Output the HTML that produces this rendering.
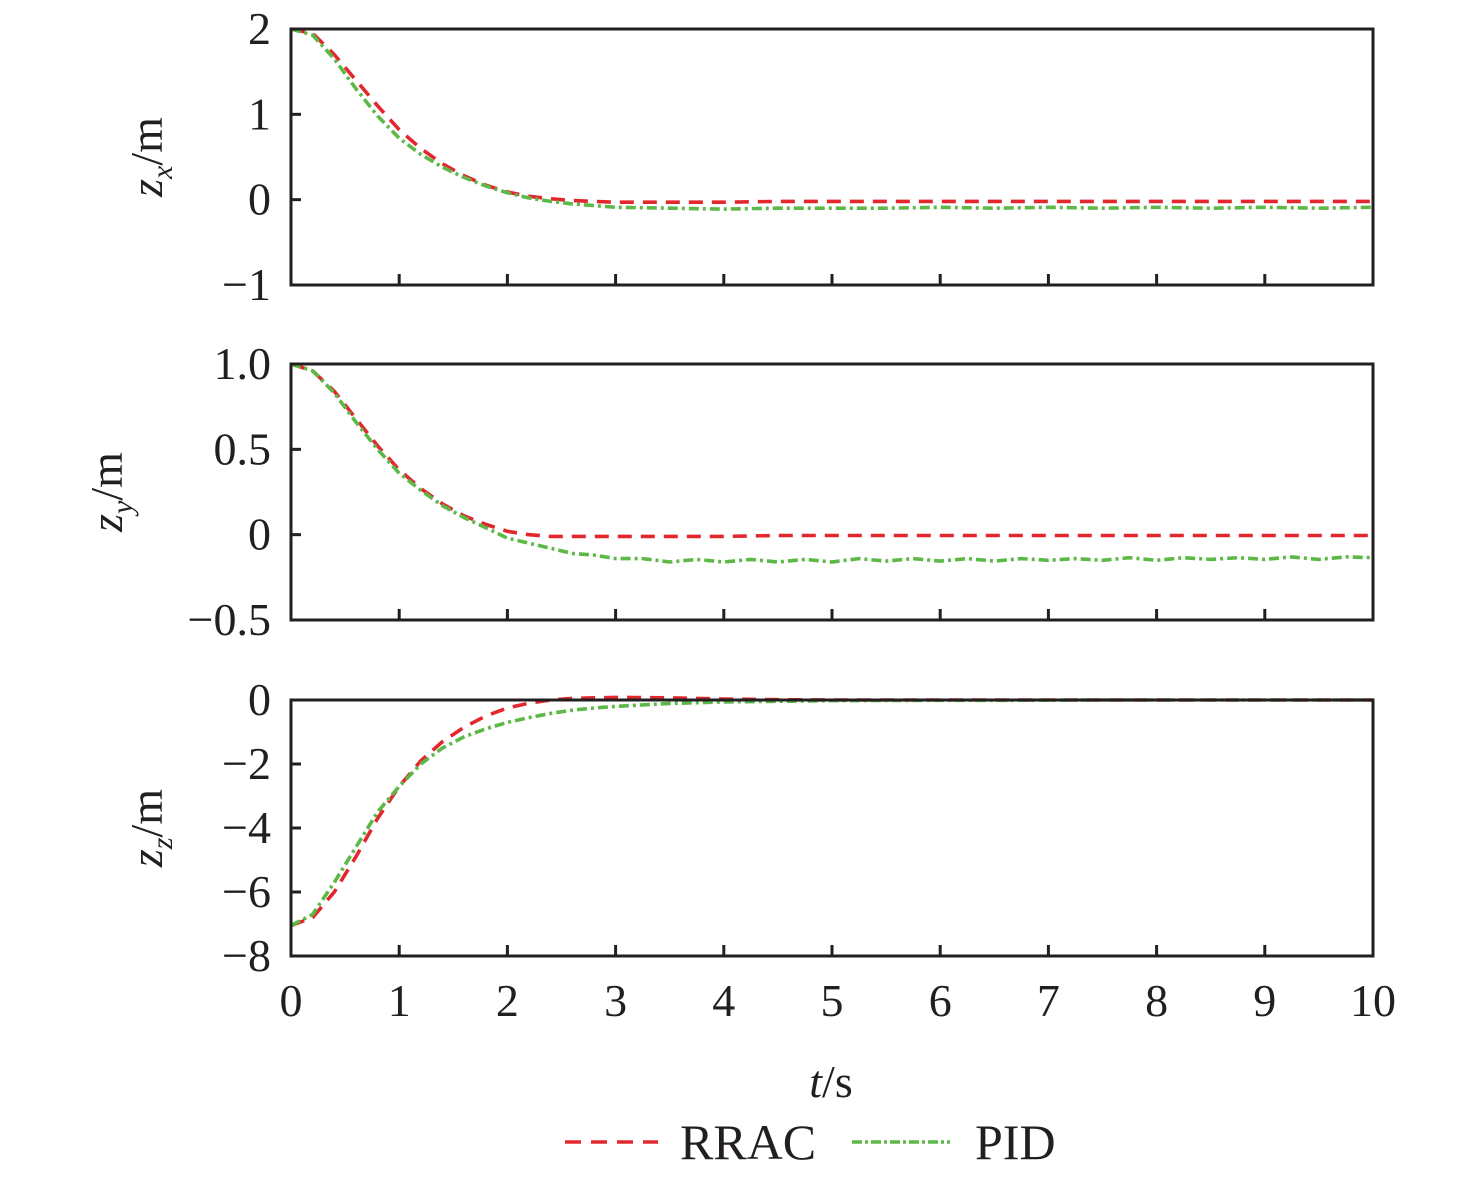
<!DOCTYPE html>
<html><head><meta charset="utf-8"><style>
html,body{margin:0;padding:0;background:#fff;}
svg{display:block;}
svg text{font-family:"Liberation Serif","Times New Roman",serif;}
</style></head><body>
<svg id="chart" width="1476" height="1177" viewBox="0 0 1476 1177"></svg>
<script>
const tX = [0,0.2,0.4,0.6,0.8,1.0,1.2,1.4,1.6,1.8,2.0,2.2,2.4,2.6,2.8,3.0,3.5,4.0,4.5,5,5.5,6,6.5,7,7.5,8,8.5,9,9.5,10];
const zxRRAC = [2,1.95,1.7,1.4,1.1,0.82,0.6,0.42,0.28,0.17,0.09,0.04,0.01,-0.01,-0.02,-0.03,-0.03,-0.03,-0.02,-0.02,-0.02,-0.02,-0.02,-0.02,-0.02,-0.02,-0.02,-0.02,-0.02,-0.02];
const zxPID = [2,1.93,1.65,1.3,0.98,0.72,0.53,0.38,0.26,0.16,0.08,0.02,-0.02,-0.05,-0.07,-0.09,-0.1,-0.11,-0.1,-0.1,-0.1,-0.09,-0.1,-0.09,-0.1,-0.09,-0.1,-0.09,-0.1,-0.09];
const zyRRAC = [1,0.96,0.84,0.68,0.52,0.38,0.27,0.18,0.11,0.06,0.02,0.0,-0.01,-0.01,-0.01,-0.01,-0.01,-0.01,-0.005,-0.005,-0.005,-0.005,-0.005,-0.005,-0.005,-0.005,-0.005,-0.005,-0.005,-0.005];
const tY = [0,0.2,0.4,0.6,0.8,1.0,1.2,1.4,1.6,1.8,2.0,2.2,2.4,2.6,2.8,3.0,3.25,3.5,3.75,4,4.25,4.5,4.75,5,5.25,5.5,5.75,6,6.25,6.5,6.75,7,7.25,7.5,7.75,8,8.25,8.5,8.75,9,9.25,9.5,9.75,10];
const zyPID = [1,0.96,0.83,0.66,0.5,0.36,0.26,0.17,0.1,0.04,-0.02,-0.05,-0.08,-0.11,-0.12,-0.14,-0.14,-0.16,-0.145,-0.16,-0.145,-0.16,-0.145,-0.16,-0.14,-0.155,-0.14,-0.155,-0.14,-0.155,-0.14,-0.15,-0.14,-0.15,-0.135,-0.15,-0.135,-0.145,-0.135,-0.145,-0.13,-0.145,-0.13,-0.135];
const zzRRAC = [-7.05,-6.8,-6.0,-4.9,-3.7,-2.7,-1.9,-1.3,-0.85,-0.5,-0.25,-0.1,0,0.05,0.07,0.08,0.07,0.03,0.01,0,0,0,0,0,0,0,0,0,0,0];
const zzPID = [-7.05,-6.7,-5.7,-4.6,-3.5,-2.7,-2.0,-1.5,-1.15,-0.9,-0.7,-0.55,-0.42,-0.32,-0.25,-0.2,-0.11,-0.06,-0.04,-0.02,-0.015,-0.01,-0.01,-0.005,0,0,0,0,0,0];
const xTicks = [0,1,2,3,4,5,6,7,8,9,10];
const p1Ticks = [2,1,0,-1], p1Labels = ["2","1","0","\u22121"];
const p2Ticks = [1,0.5,0,-0.5], p2Labels = ["1.0","0.5","0","\u22120.5"];
const p3Ticks = [0,-2,-4,-6,-8], p3Labels = ["0","\u22122","\u22124","\u22126","\u22128"];

const svg = document.getElementById('chart');
const NS = 'http://www.w3.org/2000/svg';
function mk(tag, attrs, parent){const e=document.createElementNS(NS,tag);for(const k in attrs)e.setAttribute(k,attrs[k]);(parent||svg).appendChild(e);return e;}
const X0=291,X1=1373;
const xs = t => X0 + (X1-X0)*t/10;
const RED='#e2282e', GREEN='#5cb947';
const FF='Liberation Serif, serif';

function panel(name, top, bot, ymax, ymin, ticks, labels, series, ylabel, sub, lx, ly){
  const g = mk('g',{});
  
  
  const ys = v => top + (bot-top)*(ymax-v)/(ymax-ymin);
  series.forEach(s=>{
    const d = s.t.map((t,i)=>(i?'L':'M')+xs(t).toFixed(1)+','+ys(s.v[i]).toFixed(1)).join(' ');
    const p = mk('path',{d:d,fill:'none',stroke:s.c,'stroke-width':3.6,'stroke-dasharray':s.dash,'stroke-linejoin':'round'},g);
    
    
  });
  const fr = mk('rect',{x:X0,y:top,width:X1-X0,height:bot-top,fill:'none',stroke:'#231f20','stroke-width':3},g);
  
  
  ticks.forEach((v,i)=>{
    const y=ys(v);
    mk('line',{x1:X0,x2:X0+10,y1:y,y2:y,stroke:'#231f20','stroke-width':3},g);
    const tx = mk('text',{x:X0-20,y:y+15,'text-anchor':'end','font-size':46,'font-family':FF,fill:'#231f20'},g);
    tx.textContent = labels[i];
    
    
  });
  xTicks.forEach(t=>{
    if(t===0||t===10) return;
    mk('line',{x1:xs(t),x2:xs(t),y1:bot,y2:bot-11,stroke:'#231f20','stroke-width':3},g);
  });
  const lab = mk('text',{transform:`translate(${lx},${ly}) rotate(-90)`,'text-anchor':'middle','font-size':46,'font-family':FF,fill:'#231f20'},g);
  lab.innerHTML = `<tspan font-style="italic">z</tspan><tspan font-style="italic" font-size="30" dy="10">${sub}</tspan><tspan dy="-10">/m</tspan>`;
  
  
}
const dR='14 9', dG='10 4 3 4';
panel('panel-zx',29,285,2,-1,p1Ticks,p1Labels,[{t:tX,v:zxRRAC,c:RED,dash:dR,n:'rrac-line'},{t:tX,v:zxPID,c:GREEN,dash:dG,n:'pid-line'}],'zx','x',162,157);
panel('panel-zy',364,620,1,-0.5,p2Ticks,p2Labels,[{t:tX,v:zyRRAC,c:RED,dash:dR,n:'rrac-line'},{t:tY,v:zyPID,c:GREEN,dash:dG,n:'pid-line'}],'zy','y',122,492);
panel('panel-zz',700,956,0,-8,p3Ticks,p3Labels,[{t:tX,v:zzRRAC,c:RED,dash:dR,n:'rrac-line'},{t:tX,v:zzPID,c:GREEN,dash:dG,n:'pid-line'}],'zz','z',162,828);

xTicks.forEach(t=>{
  const tx = mk('text',{x:xs(t),y:1016,'text-anchor':'middle','font-size':46,'font-family':FF,fill:'#231f20'});
  tx.textContent = String(t);
  
  
});
const xt = mk('text',{x:831,y:1097,'text-anchor':'middle','font-size':46,'font-family':FF,fill:'#231f20'});
xt.innerHTML = '<tspan font-style="italic">t</tspan>/s';



const lg = mk('g',{});


const l1 = mk('line',{x1:565,x2:658,y1:1142,y2:1142,stroke:RED,'stroke-width':3.4,'stroke-dasharray':'16 10'},lg);


const t1 = mk('text',{x:680,y:1159,'font-size':50,'font-family':FF,fill:'#231f20'},lg);
t1.textContent='RRAC';


const l2 = mk('line',{x1:852,x2:950,y1:1142,y2:1142,stroke:GREEN,'stroke-width':3.4,'stroke-dasharray':'10 3 3 3'},lg);


const t2 = mk('text',{x:975,y:1159,'font-size':50,'font-family':FF,fill:'#231f20'},lg);
t2.textContent='PID';


</script>
</body></html>
